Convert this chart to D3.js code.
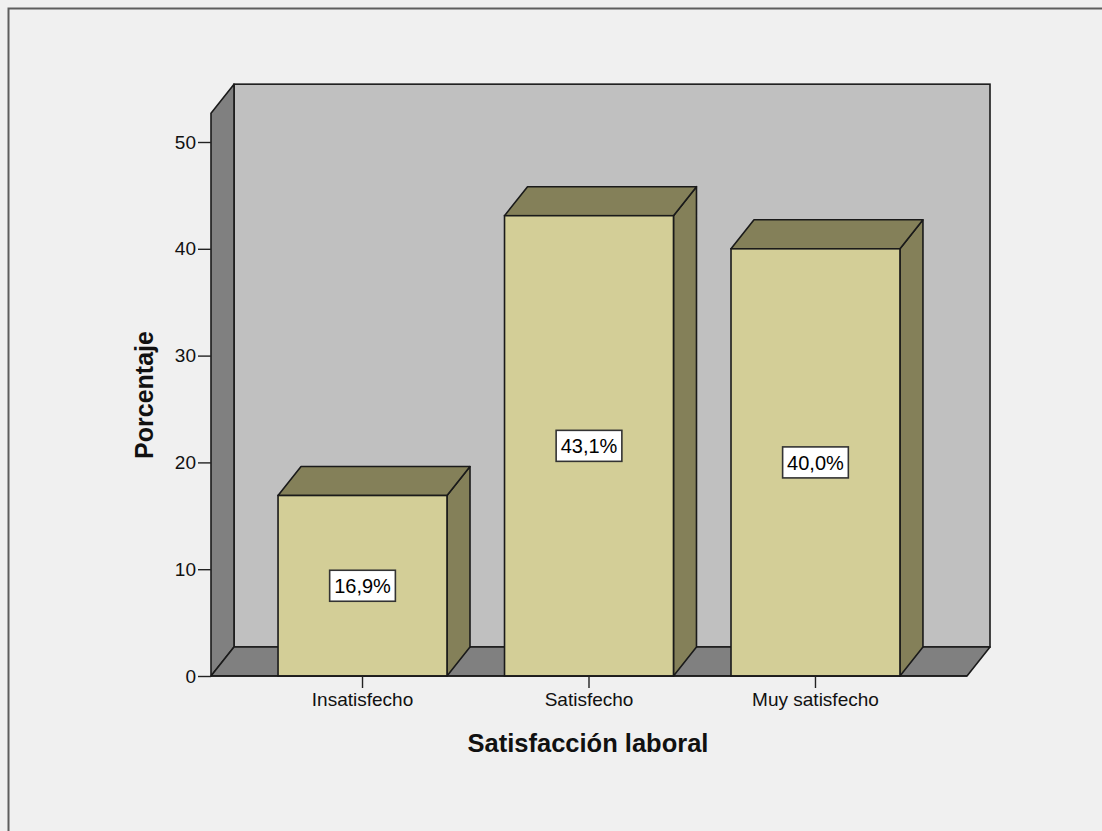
<!DOCTYPE html>
<html>
<head>
<meta charset="utf-8">
<script src="https://cdn.jsdelivr.net/npm/d3@7"></script>
<style>
  html, body { margin: 0; padding: 0; background: #f0f0f0; }
  svg { display: block; }
  text { font-family: "Liberation Sans", Arial, sans-serif; }
</style>
</head>
<body>
<svg id="chart" width="1102" height="831"></svg>
<script>
// Data
const categories = ["Insatisfecho", "Satisfecho", "Muy satisfecho"];
const percentages = [16.9, 43.1, 40.0];
const valueLabels = ["16,9%", "43,1%", "40,0%"];
const yTicks = [0, 10, 20, 30, 40, 50];

const svg = d3.select("#chart");
const W = 1102, H = 831;
const FONT = '"Liberation Sans", Arial, sans-serif';

// Outer frame
svg.append("rect").attr("x", 0).attr("y", 0).attr("width", W).attr("height", H).attr("fill", "#f0f0f0");
svg.append("rect").attr("x", 8.5).attr("y", 8.5).attr("width", W + 20).attr("height", H + 20)
  .attr("fill", "none").attr("stroke", "#5e5e5e").attr("stroke-width", 2);

// Front plane geometry and depth offset for the 3D look
const x0 = 211, x1 = 967;
const yBottom = 676;
const dx = 23, dy = -29;

const y = d3.scaleLinear().domain([0, 50]).range([yBottom, 142]);
const yMax = 52.7;
const x = d3.scaleBand().domain(categories).range([x0, x1]).paddingInner(0.254).paddingOuter(0.296);

const g = svg.append("g");
const line = d3.line();
const stroke = "#1a1a1a";

// Back wall
g.append("rect")
  .attr("x", x0 + dx).attr("y", y(yMax) + dy)
  .attr("width", x1 - x0).attr("height", yBottom - y(yMax))
  .attr("fill", "#c0c0c0").attr("stroke", stroke).attr("stroke-width", 1.6);

// Left wall
g.append("path")
  .attr("d", line([[x0, yBottom], [x0, y(yMax)], [x0 + dx, y(yMax) + dy], [x0 + dx, yBottom + dy]]) + "Z")
  .attr("fill", "#808080").attr("stroke", stroke).attr("stroke-width", 1.6).attr("stroke-linejoin", "round");

// Floor
g.append("path")
  .attr("d", line([[x0, yBottom], [x0 + dx, yBottom + dy], [x1 + dx, yBottom + dy], [x1, yBottom]]) + "Z")
  .attr("fill", "#808080").attr("stroke", stroke).attr("stroke-width", 1.6).attr("stroke-linejoin", "round");

// Bars
const bars = g.selectAll("g.bar").data(categories).join("g").attr("class", "bar");
bars.each(function(c, i) {
  const b = d3.select(this);
  const bx = x(c), bw = x.bandwidth();
  const top = y(percentages[i]);
  // right side
  b.append("path")
    .attr("d", line([[bx + bw, yBottom], [bx + bw, top], [bx + bw + dx, top + dy], [bx + bw + dx, yBottom + dy]]) + "Z")
    .attr("fill", "#848059").attr("stroke", stroke).attr("stroke-width", 1.6).attr("stroke-linejoin", "round");
  // top
  b.append("path")
    .attr("d", line([[bx, top], [bx + dx, top + dy], [bx + bw + dx, top + dy], [bx + bw, top]]) + "Z")
    .attr("fill", "#848059").attr("stroke", stroke).attr("stroke-width", 1.6).attr("stroke-linejoin", "round");
  // front
  b.append("rect")
    .attr("x", bx).attr("y", top).attr("width", bw).attr("height", yBottom - top)
    .attr("fill", "#d3ce97").attr("stroke", stroke).attr("stroke-width", 1.6);

  // value label in a white box at the middle of the front face
  const cx = bx + bw / 2, cy = (top + yBottom) / 2;
  const t = b.append("text")
    .attr("x", cx).attr("y", cy + 7.5)
    .attr("text-anchor", "middle")
    .attr("font-size", 20).attr("fill", "#000")
    .text(valueLabels[i]);
  const tw = t.node().getComputedTextLength();
  b.insert("rect", "text")
    .attr("x", cx - tw / 2 - 4.5).attr("y", cy - 15.5)
    .attr("width", tw + 9).attr("height", 31)
    .attr("fill", "#fff").attr("stroke", "#333").attr("stroke-width", 1.6);
});

// Front baseline
g.append("line").attr("x1", x0).attr("x2", x1).attr("y1", yBottom).attr("y2", yBottom)
  .attr("stroke", stroke).attr("stroke-width", 1.6);

// Y axis
const yAxis = d3.axisLeft(y).tickValues(yTicks).tickSize(13).tickPadding(2).tickFormat(d3.format("d"));
const ya = svg.append("g").attr("transform", `translate(${x0},0)`).call(yAxis);
ya.select(".domain").remove();
ya.selectAll(".tick line").attr("stroke", "#222").attr("stroke-width", 1.4);
ya.selectAll(".tick text").attr("font-size", 19).attr("fill", "#111").style("font-family", FONT);

// X axis
const xAxis = d3.axisBottom(x).tickSize(12).tickPadding(5);
const xa = svg.append("g").attr("transform", `translate(0,${yBottom})`).call(xAxis);
xa.select(".domain").remove();
xa.selectAll(".tick line").attr("stroke", "#222").attr("stroke-width", 1.4);
xa.selectAll(".tick text").attr("font-size", 19).attr("fill", "#111").style("font-family", FONT);

// Axis titles
svg.append("text")
  .attr("x", 588).attr("y", 752)
  .attr("text-anchor", "middle")
  .attr("font-size", 25.5).attr("font-weight", "bold")
  .attr("fill", "#111")
  .text("Satisfacción laboral");

svg.append("text")
  .attr("transform", "translate(153,395) rotate(-90)")
  .attr("text-anchor", "middle")
  .attr("font-size", 25).attr("font-weight", "bold")
  .attr("fill", "#111")
  .text("Porcentaje");
</script>
</body>
</html>
